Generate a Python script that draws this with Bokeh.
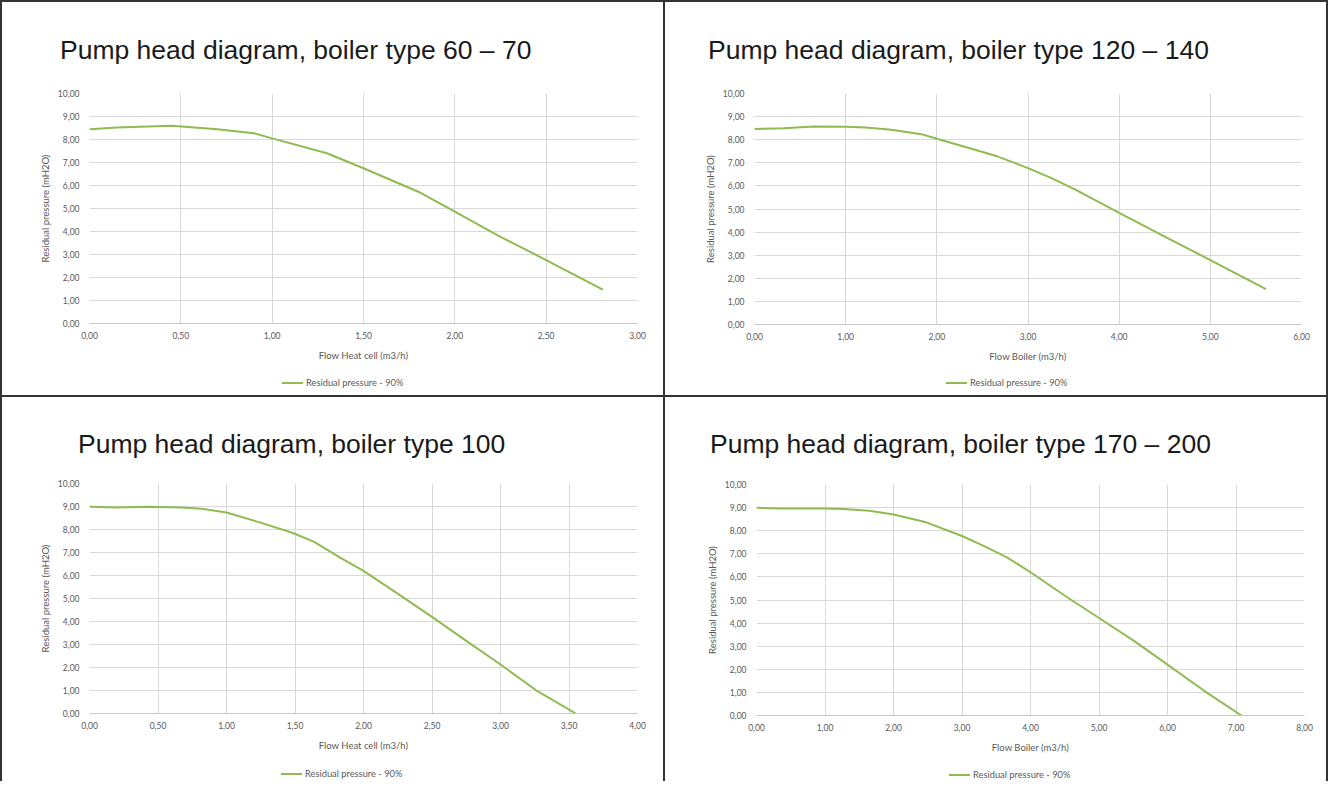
from bokeh.plotting import figure
from bokeh.layouts import row, column
from bokeh.models import Range1d, FixedTicker, CustomJSTickFormatter, Div
from bokeh.embed import file_html
from bokeh.resources import INLINE

# ---------------- data ----------------
series_name = "Residual pressure - 90%"
y_axis_title = "Residual pressure (mH2O)"
y_ticks = [0, 1, 2, 3, 4, 5, 6, 7, 8, 9, 10]

title_60_70 = "Pump head diagram, boiler type 60 \u2013 70"
xlabel_60_70 = "Flow Heat cell (m3/h)"
x_ticks_60_70 = [0, 0.5, 1.0, 1.5, 2.0, 2.5, 3.0]
flow_60_70 = [0.0, 0.15, 0.45, 0.70, 0.90, 1.00, 1.30, 1.50, 1.80, 2.00, 2.25, 2.50, 2.81]
press_60_70 = [8.45, 8.52, 8.60, 8.45, 8.27, 8.05, 7.40, 6.75, 5.73, 4.86, 3.77, 2.76, 1.47]

title_120_140 = "Pump head diagram, boiler type 120 \u2013 140"
xlabel_120_140 = "Flow Boiler (m3/h)"
x_ticks_120_140 = [0, 1, 2, 3, 4, 5, 6]
flow_120_140 = [0.0, 0.32, 0.65, 1.00, 1.22, 1.50, 1.83, 2.00, 2.39, 2.67, 3.00, 3.24, 3.52, 4.00, 4.50, 5.00, 5.61]
press_120_140 = [8.46, 8.50, 8.57, 8.56, 8.53, 8.43, 8.24, 8.04, 7.60, 7.27, 6.77, 6.37, 5.84, 4.83, 3.80, 2.79, 1.53]

title_100 = "Pump head diagram, boiler type 100"
xlabel_100 = "Flow Heat cell (m3/h)"
x_ticks_100 = [0, 0.5, 1.0, 1.5, 2.0, 2.5, 3.0, 3.5, 4.0]
flow_100 = [0.0, 0.20, 0.42, 0.67, 0.82, 1.00, 1.23, 1.48, 1.64, 1.82, 2.00, 2.23, 2.50, 2.75, 3.00, 3.26, 3.55]
press_100 = [8.99, 8.96, 8.99, 8.96, 8.90, 8.74, 8.33, 7.86, 7.46, 6.81, 6.20, 5.29, 4.20, 3.16, 2.13, 1.01, 0.0]

title_170_200 = "Pump head diagram, boiler type 170 \u2013 200"
xlabel_170_200 = "Flow Boiler (m3/h)"
x_ticks_170_200 = [0, 1, 2, 3, 4, 5, 6, 7, 8]
flow_170_200 = [0.0, 0.33, 1.00, 1.27, 1.65, 2.00, 2.46, 3.00, 3.27, 3.65, 4.00, 4.53, 5.00, 5.50, 6.00, 6.53, 7.08]
press_170_200 = [8.99, 8.96, 8.96, 8.94, 8.86, 8.70, 8.38, 7.77, 7.41, 6.86, 6.20, 5.13, 4.22, 3.25, 2.20, 1.08, 0.0]

# ---------------- style ----------------
LINE_COLOR = "#8fbb52"
GRID_COLOR = "#d9d9d9"
TEXT_GRAY = "#595959"
SMALL_FONT = "Lato"
W = 661

fmt = CustomJSTickFormatter(code="return tick.toFixed(2).replace('.', ',');")


def make_panel(title, xlabel, xticks, flow, press, heights, title_pos, frame_lr, frame_tb,
               legend_pos):
    t_h, c_h, l_h = heights
    # ---- title ----
    html = ('<div style="padding:%dpx 0 0 %dpx; font-family:\'Liberation Sans\',Arial,sans-serif; '
            'font-size:26.5px; line-height:normal; color:#1a1a1a; white-space:nowrap;">%s</div>'
            % (title_pos[1], title_pos[0], title))
    tdiv = Div(text=html, width=W, height=t_h, margin=(0, 0, 0, 0),
               styles={"background-color": "white"})

    # ---- chart ----
    left, right = frame_lr
    top, bottom = frame_tb
    p = figure(width=W, height=c_h, output_backend="svg", toolbar_location=None,
               x_range=Range1d(xticks[0], xticks[-1]), y_range=Range1d(y_ticks[0], y_ticks[-1]),
               min_border_left=left, min_border_right=right,
               min_border_top=top, min_border_bottom=bottom,
               background_fill_color="white", border_fill_color="white")
    p.outline_line_color = None
    p.xaxis.ticker = FixedTicker(ticks=xticks)
    p.yaxis.ticker = FixedTicker(ticks=y_ticks)
    p.xgrid.ticker = FixedTicker(ticks=xticks)
    p.ygrid.ticker = FixedTicker(ticks=y_ticks)
    p.grid.grid_line_color = GRID_COLOR
    p.grid.grid_line_width = 1
    for ax in (p.xaxis[0], p.yaxis[0]):
        ax.formatter = fmt
        ax.major_tick_in = 0
        ax.major_tick_out = 0
        ax.minor_tick_in = 0
        ax.minor_tick_out = 0
        ax.major_label_text_font = SMALL_FONT
        ax.major_label_text_font_size = "8.5px"
        ax.major_label_text_color = TEXT_GRAY
        ax.axis_label_text_font = SMALL_FONT
        ax.axis_label_text_font_style = "normal"
        ax.axis_label_text_color = TEXT_GRAY
    p.xaxis.axis_line_color = "#c8c8c8"
    p.yaxis.axis_line_color = None
    p.xaxis.axis_label = xlabel
    p.yaxis.axis_label = y_axis_title
    p.xaxis.axis_label_text_font_size = "9.5px"
    p.yaxis.axis_label_text_font_size = "9.5px"
    p.xaxis.major_label_standoff = 8
    p.yaxis.major_label_standoff = 10
    p.xaxis.axis_label_standoff = 8
    p.yaxis.axis_label_standoff = 4
    p.line(flow, press, line_color=LINE_COLOR, line_width=2, legend_label=series_name)
    p.legend.visible = False

    # ---- legend strip (sample line + series name) ----
    lx, lc = legend_pos
    lhtml = ('<div style="position:relative; width:%dpx; height:%dpx;">'
             '<div style="position:absolute; left:%dpx; top:%dpx; width:21px; height:0; '
             'border-top:2px solid %s;"></div>'
             '<div style="position:absolute; left:%dpx; top:%dpx; font-family:Lato,sans-serif; '
             'font-size:9.3px; line-height:10px; color:%s; white-space:nowrap;">%s</div></div>'
             % (W, l_h, lx, lc - 1, LINE_COLOR, lx + 24, lc - 5, TEXT_GRAY, series_name))
    ldiv = Div(text=lhtml, width=W, height=l_h, margin=(0, 0, 0, 0),
               styles={"background-color": "white"})
    return column(tdiv, p, ldiv, spacing=0, styles={"background-color": "white"})


p1 = make_panel(title_60_70, xlabel_60_70, x_ticks_60_70, flow_60_70, press_60_70,
                (81, 287, 25), (58, 33), (87, 26), (10, 47), (280, 13))
p2 = make_panel(title_120_140, xlabel_120_140, x_ticks_120_140, flow_120_140, press_120_140,
                (81, 287, 25), (43, 33), (89, 25), (10, 46), (281, 13))
p3 = make_panel(title_100, xlabel_100, x_ticks_100, flow_100, press_100,
                (78, 283, 23), (76, 32), (87, 26), (8, 45), (279, 16))
p4 = make_panel(title_170_200, xlabel_170_200, x_ticks_170_200, flow_170_200, press_170_200,
                (78, 283, 23), (45, 32), (91, 22), (9, 43), (284, 17))

layout = column(row(p1, p2, spacing=2), row(p3, p4, spacing=2), spacing=2,
                styles={"background-color": "#333333", "padding": "2px 2px 0px 2px"})

open("out.html", "w").write(file_html(layout, INLINE))
